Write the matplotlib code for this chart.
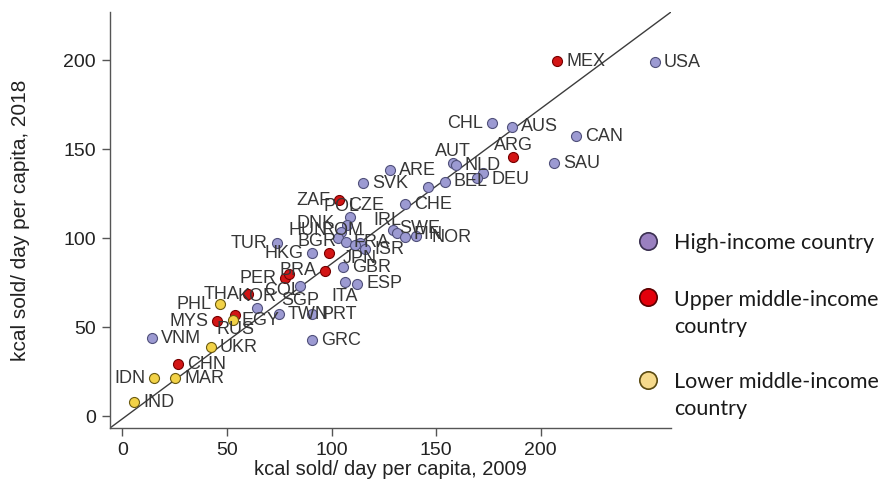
import matplotlib
matplotlib.use("Agg")
import matplotlib.pyplot as plt
from matplotlib.lines import Line2D

# kcal sold per day per capita, 2009 vs 2018
countries = ["USA", "MEX", "CHL", "AUS", "CAN", "ARG", "SAU", "AUT", "NLD", "ARE",
             "SVK", "DEU", "", "BEL", "", "CHE", "ZAF", "CZE", "POL", "DNK",
             "HUN", "ROM", "IRL", "SWE", "FIN", "NOR", "BGR", "FRA", "ISR", "JPN",
             "GBR", "HKG", "TUR", "BRA", "PER", "COL", "SGP", "THA", "KOR", "TWN",
             "PRT", "ITA", "ESP", "GRC", "PHL", "MYS", "RUS", "EGY", "VNM", "UKR",
             "CHN", "IDN", "MAR", "IND"]
kcal_2009 = [254.6, 207.8, 176.7, 186.3, 216.9, 186.8, 206.4, 158.1, 159.5, 127.9,
             115.1, 172.4, 169.5, 154.2, 146.1, 135.1, 103.6, 108.8, 107.4, 104.6,
             103.1, 113.6, 129.4, 131.3, 135.1, 140.4, 106.9, 111.2, 116.0, 98.8,
             105.5, 90.7, 73.9, 96.9, 77.8, 79.7, 84.9, 60.1, 64.4, 74.9,
             90.7, 106.5, 112.2, 90.7, 46.8, 45.3, 53.9, 52.9, 14.2, 42.4,
             26.6, 15.2, 25.2, 5.6]
kcal_2018 = [198.9, 199.4, 164.6, 162.4, 157.3, 145.5, 142.1, 142.1, 141.0, 138.2,
             130.9, 136.5, 133.7, 131.5, 128.7, 119.1, 121.3, 111.8, 107.3, 103.4,
             100.0, 97.2, 104.5, 102.8, 100.6, 101.1, 97.8, 96.1, 93.8, 91.6,
             83.7, 91.6, 97.2, 81.5, 77.5, 79.8, 73.0, 68.5, 60.7, 57.3,
             57.3, 75.3, 74.2, 42.7, 62.9, 53.4, 56.7, 53.9, 43.8, 38.8,
             29.2, 21.3, 21.3, 7.9]
income = ["H", "U", "H", "H", "H", "U", "H", "H", "H", "H",
          "H", "H", "H", "H", "H", "H", "U", "H", "H", "H",
          "H", "H", "H", "H", "H", "H", "H", "H", "H", "U",
          "H", "H", "H", "U", "U", "U", "H", "U", "H", "H",
          "H", "H", "H", "H", "L", "U", "U", "L", "H", "L",
          "U", "L", "L", "L"]

group_labels = {"H": "High-income country",
                "U": "Upper middle-income\ncountry",
                "L": "Lower middle-income\ncountry"}

# marker styles (face, edge)
marker_colors = {"H": ("#9c9ad2", "#50507a"),
                 "U": ("#d31515", "#760000"),
                 "L": ("#f2d247", "#6b5a10")}
legend_colors = {"H": ("#9a80c0", "#3a2f50"),
                 "U": ("#e3000b", "#5a0000"),
                 "L": ("#f6da8c", "#5a4a10")}

# label placement: clock position or (dx, dy) pixel offset of the text centre
label_pos = {"CHL": 9, "ZAF": 9, "TUR": 9, "HKG": 9, "BRA": 9, "PER": 9,
             "THA": 9, "PHL": 9, "MYS": 9, "IDN": 9, "BGR": 9,
             "AUT": 12, "ARG": 12, "KOR": 12, "SGP": 6, "ITA": 6, "RUS": 6,
             "CZE": (16, 12), "POL": (-5, 19), "DNK": (-26, 9), "HUN": (-30, 8),
             "ROM": (-17, 13), "IRL": (-6, 10), "SWE": (23, 5), "FIN": (23, 2),
             "NOR": (36, -1), "FRA": (17, 3), "JPN": (31, -5), "COL": (-6, -16),
             "DEU": (28, -6)}

xlim = (-5.9, 262.3)
ylim = (-6.7, 227.0)


def main():
    plt.rcParams.update({
        "font.family": ["Liberation Sans", "DejaVu Sans"],
        "font.size": 13,
    })
    W, H = 886, 483
    fig = plt.figure(figsize=(W / 100, H / 100), dpi=100)
    ax = fig.add_axes([110 / W, 1 - 428 / H, 561 / W, 416 / H])

    # reference line across the plot region
    ax.plot(xlim, ylim, color="#3c3c3c", lw=1.0, zorder=1)

    for g in ["H", "U", "L"]:
        xs = [x for x, k in zip(kcal_2009, income) if k == g]
        ys = [y for y, k in zip(kcal_2018, income) if k == g]
        face, edge = marker_colors[g]
        ax.scatter(xs, ys, s=52, facecolor=face, edgecolor=edge, linewidth=0.8, zorder=3)

    for name, x, y in zip(countries, kcal_2009, kcal_2018):
        if not name:
            continue
        pos = label_pos.get(name, 3)
        if pos == 3:
            off, ha = (9, 0), "left"
        elif pos == 9:
            off, ha = (-9, 0), "right"
        elif pos == 12:
            off, ha = (0, 12), "center"
        elif pos == 6:
            off, ha = (0, -14), "center"
        else:
            off, ha = pos, "center"
        ax.annotate(name, (x, y), xytext=off, textcoords="offset pixels",
                    ha=ha, va="center", fontsize=13, color="#363636", zorder=4)

    ax.set_xlim(*xlim)
    ax.set_ylim(*ylim)
    ax.set_xticks([0, 50, 100, 150, 200])
    ax.set_yticks([0, 50, 100, 150, 200])
    ax.spines["top"].set_visible(False)
    ax.spines["right"].set_visible(False)
    for s in ["left", "bottom"]:
        ax.spines[s].set_color("#555555")
        ax.spines[s].set_linewidth(1.0)
    ax.tick_params(length=6, width=1.0, color="#555555", labelsize=14,
                   labelcolor="#222222", pad=4)
    ax.set_xlabel("kcal sold/ day per capita, 2009", fontsize=14.5, color="#222222", labelpad=1)
    ax.set_ylabel("kcal sold/ day per capita, 2018", fontsize=15, color="#222222", labelpad=24)

    # legend drawn on the figure: marker y, first text line centre y (pixels)
    legend_rows = {"H": (241, 243), "U": (297, 300), "L": (380, 382)}
    for g in ["H", "U", "L"]:
        my, ty = legend_rows[g]
        face, edge = legend_colors[g]
        fig.add_artist(Line2D([648 / W], [1 - my / H], marker="o", markersize=12.5,
                              markerfacecolor=face, markeredgecolor=edge,
                              markeredgewidth=1.2, transform=fig.transFigure))
        lines = group_labels[g].split("\n")
        for i, line in enumerate(lines):
            fig.text(674 / W, 1 - (ty + 27 * i) / H, line, ha="left", va="center",
                     fontsize=15.5, family=["Lato", "DejaVu Sans"], color="#1a1a1a")

    fig.savefig("out.png", dpi=100)


if __name__ == "__main__":
    main()
